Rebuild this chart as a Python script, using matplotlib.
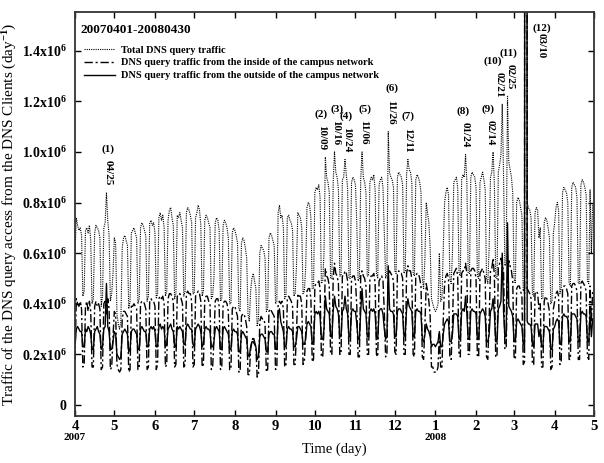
import pandas as pd
import matplotlib
matplotlib.use('Agg')
import matplotlib.pyplot as plt
import matplotlib.dates as mdates
from matplotlib.ticker import FuncFormatter, MultipleLocator

plt.rcParams['font.family'] = ['Liberation Serif', 'DejaVu Serif']
plt.rcParams['font.weight'] = 'bold'
plt.rcParams['mathtext.fontset'] = 'custom'
plt.rcParams['mathtext.rm'] = 'Liberation Serif'
plt.rcParams['mathtext.bf'] = 'Liberation Serif:bold'
plt.rcParams['mathtext.it'] = 'Liberation Serif:italic'
plt.rcParams['mathtext.default'] = 'bf'

start = '2007-04-01'
end = '2008-04-30'

# daily DNS queries, unit 1e4 / day, one row per week (Sun .. Sat)
total = [
    60, 74, 71, 69, 70, 67, 43,
    45, 69, 70, 68, 71, 65, 40,
    42, 68, 71, 70, 69, 66, 39,
    43, 70, 72, 84, 73, 67, 41,
    44, 52, 66, 64, 36, 32, 30,
    33, 62, 66, 67, 65, 63, 38,
    41, 68, 69, 70, 68, 66, 40,
    42, 70, 72, 71, 69, 67, 41,
    43, 72, 73, 71, 72, 68, 42,
    44, 74, 76, 73, 75, 70, 43,
    45, 73, 77, 78, 74, 71, 42,
    44, 75, 74, 76, 73, 70, 43,
    45, 76, 78, 77, 75, 72, 44,
    44, 74, 76, 79, 77, 71, 43,
    45, 73, 75, 74, 72, 70, 42,
    43, 50, 72, 74, 73, 69, 41,
    42, 71, 73, 72, 70, 66, 40,
    40, 68, 70, 69, 67, 64, 38,
    37, 64, 66, 65, 62, 58, 36,
    33, 45, 50, 52, 49, 46, 31,
    34, 60, 63, 62, 61, 58, 37,
    38, 66, 68, 67, 65, 63, 40,
    41, 76, 79, 74, 75, 70, 42,
    43, 74, 75, 73, 72, 69, 43,
    44, 55, 76, 75, 74, 70, 44,
    45, 54, 78, 80, 79, 74, 46,
    46, 84, 86, 85, 87, 82, 48,
    49, 60, 98, 90, 88, 84, 50,
    50, 88, 100, 92, 90, 85, 51,
    51, 89, 90, 97, 91, 86, 50,
    50, 88, 90, 89, 87, 72, 49,
    50, 89, 100, 90, 88, 84, 51,
    51, 88, 90, 89, 91, 85, 52,
    50, 87, 89, 90, 86, 68, 50,
    52, 108, 92, 90, 89, 86, 53,
    52, 90, 92, 91, 90, 87, 52,
    53, 91, 97, 93, 92, 88, 52,
    51, 89, 91, 90, 88, 84, 50,
    46, 58, 80, 76, 72, 62, 42,
    40, 38, 37, 38, 40, 60, 41,
    42, 62, 80, 84, 86, 83, 50,
    48, 60, 88, 89, 90, 86, 52,
    51, 89, 91, 90, 99, 88, 52,
    52, 90, 92, 91, 90, 86, 51,
    50, 88, 90, 92, 89, 85, 50,
    48, 62, 90, 92, 100, 87, 50,
    50, 92, 95, 99, 119, 90, 55,
    56, 122, 96, 93, 90, 84, 50,
    48, 80, 82, 81, 78, 75, 45,
    46, 4000, 80, 78, 77, 74, 44,
    43, 76, 78, 77, 66, 70, 42,
    42, 72, 74, 73, 70, 66, 40,
    41, 68, 72, 78, 80, 77, 44,
    46, 84, 86, 85, 84, 80, 48,
    47, 86, 88, 87, 86, 82, 48,
    48, 87, 89, 88, 86, 83, 49,
    48, 85, 60, 80,
]

inside = [
    18, 42, 40, 39, 41, 38, 15,
    16, 39, 41, 37, 41, 37, 15,
    15, 39, 41, 39, 40, 38, 14,
    15, 40, 41, 36, 42, 38, 14,
    15, 27, 37, 36, 16, 14, 13,
    14, 34, 37, 37, 36, 35, 13,
    14, 39, 39, 40, 39, 38, 14,
    15, 40, 41, 41, 40, 38, 14,
    15, 41, 42, 41, 41, 39, 14,
    16, 42, 43, 42, 43, 40, 15,
    16, 42, 44, 44, 43, 41, 15,
    16, 43, 43, 44, 42, 40, 15,
    16, 44, 45, 44, 44, 41, 15,
    16, 43, 44, 45, 44, 41, 15,
    16, 42, 43, 43, 41, 40, 14,
    15, 25, 41, 42, 42, 39, 14,
    15, 40, 41, 41, 40, 37, 14,
    14, 38, 39, 39, 37, 35, 13,
    13, 35, 36, 36, 34, 31, 12,
    12, 22, 25, 27, 25, 23, 11,
    12, 33, 35, 34, 34, 32, 13,
    14, 37, 38, 37, 36, 35, 14,
    15, 40, 41, 40, 41, 38, 15,
    16, 42, 43, 42, 41, 39, 16,
    16, 29, 44, 43, 43, 40, 16,
    17, 28, 45, 46, 46, 42, 17,
    18, 47, 48, 48, 49, 46, 19,
    19, 30, 54, 51, 50, 47, 20,
    20, 50, 56, 52, 51, 48, 20,
    20, 51, 51, 53, 52, 49, 20,
    20, 50, 51, 51, 49, 39, 19,
    19, 51, 53, 51, 50, 47, 20,
    20, 50, 51, 51, 52, 48, 20,
    19, 49, 50, 51, 49, 37, 19,
    20, 52, 53, 52, 51, 49, 21,
    20, 52, 53, 52, 52, 50, 20,
    20, 52, 55, 53, 53, 50, 20,
    19, 51, 52, 52, 50, 47, 19,
    18, 32, 48, 45, 41, 35, 15,
    15, 13, 13, 13, 15, 28, 15,
    15, 34, 48, 51, 52, 50, 19,
    18, 32, 52, 53, 54, 51, 20,
    19, 52, 53, 53, 56, 52, 20,
    20, 53, 54, 54, 53, 50, 19,
    19, 52, 53, 54, 52, 50, 19,
    18, 34, 53, 54, 58, 51, 19,
    19, 54, 56, 58, 55, 53, 22,
    23, 50, 57, 55, 53, 49, 19,
    18, 46, 47, 47, 45, 43, 16,
    17, 2500, 46, 45, 44, 42, 16,
    16, 44, 45, 44, 38, 40, 15,
    15, 41, 43, 42, 40, 37, 14,
    15, 38, 41, 44, 45, 43, 16,
    17, 46, 47, 47, 46, 44, 18,
    18, 47, 48, 48, 47, 45, 18,
    18, 48, 49, 48, 47, 45, 19,
    18, 47, 33, 45,
]

outside = [
    24, 30, 31, 30, 29, 29, 23,
    23, 30, 29, 31, 30, 28, 22,
    22, 29, 30, 31, 29, 28, 22,
    23, 30, 31, 48, 31, 29, 22,
    22, 25, 29, 28, 20, 19, 18,
    19, 28, 29, 30, 29, 28, 21,
    22, 29, 30, 30, 29, 28, 22,
    22, 30, 31, 30, 29, 29, 23,
    23, 30, 31, 30, 31, 29, 23,
    23, 31, 32, 30, 31, 30, 23,
    24, 30, 31, 32, 30, 29, 23,
    23, 31, 30, 31, 30, 29, 24,
    24, 31, 32, 31, 30, 30, 24,
    23, 30, 31, 32, 31, 29, 23,
    24, 30, 31, 30, 30, 29, 23,
    23, 25, 30, 31, 30, 29, 22,
    22, 30, 31, 30, 29, 28, 22,
    22, 29, 30, 29, 29, 28, 21,
    21, 28, 29, 28, 27, 26, 20,
    19, 23, 25, 25, 24, 23, 18,
    19, 27, 28, 28, 27, 26, 21,
    21, 28, 29, 29, 28, 28, 22,
    22, 36, 38, 33, 31, 29, 23,
    23, 30, 31, 30, 30, 29, 23,
    23, 26, 31, 31, 30, 29, 24,
    24, 26, 32, 33, 32, 31, 24,
    25, 36, 37, 36, 37, 35, 26,
    26, 30, 43, 38, 37, 36, 27,
    27, 37, 43, 39, 38, 36, 27,
    27, 37, 38, 43, 38, 36, 27,
    27, 37, 38, 37, 37, 32, 26,
    26, 37, 46, 38, 37, 36, 27,
    27, 37, 38, 37, 38, 36, 27,
    26, 37, 38, 38, 36, 30, 26,
    27, 55, 38, 37, 37, 36, 27,
    27, 37, 38, 38, 37, 36, 27,
    28, 38, 42, 39, 38, 37, 27,
    27, 37, 38, 37, 37, 36, 26,
    25, 28, 32, 30, 29, 27, 23,
    24, 24, 23, 24, 25, 29, 23,
    23, 28, 32, 33, 34, 33, 25,
    25, 28, 36, 36, 36, 35, 26,
    26, 37, 38, 37, 43, 36, 26,
    26, 37, 38, 37, 37, 36, 26,
    26, 36, 37, 38, 37, 35, 25,
    25, 28, 37, 38, 42, 36, 25,
    25, 38, 39, 41, 60, 37, 27,
    27, 72, 39, 38, 37, 35, 25,
    25, 33, 34, 33, 32, 31, 24,
    24, 1500, 33, 32, 32, 31, 24,
    23, 32, 32, 32, 27, 30, 23,
    23, 31, 31, 31, 30, 29, 22,
    22, 30, 31, 33, 34, 33, 24,
    24, 35, 36, 35, 35, 34, 25,
    25, 36, 36, 36, 35, 34, 25,
    25, 36, 37, 36, 36, 35, 25,
    25, 36, 27, 34,
]

labels = ['(1)', '(2)', '(3)', '(4)', '(5)', '(6)', '(7)', '(8)', '(9)', '(10)', '(11)', '(12)']
peak_dates = ['04/25', '10/09', '10/16', '10/24', '11/06', '11/26', '12/11',
              '01/24', '02/14', '02/21', '02/25', '03/10']
peak_days = ['2007-04-25', '2007-10-09', '2007-10-16', '2007-10-24', '2007-11-06',
             '2007-11-26', '2007-12-11', '2008-01-24', '2008-02-14', '2008-02-21',
             '2008-02-25', '2008-03-10']
# horizontal nudges of the annotation texts (points)
paren_dx = [1, -3, 2, 1, 2, 3, 0, -2, -4, -7, 1]
date_dx = [1, -3, 1, 1, 1, 2, 0, 0, -2, -2, 2]

days = pd.date_range(start, end, freq='D')
s_total = pd.Series(total, index=days) * 1e4
s_inside = pd.Series(inside, index=days) * 1e4
s_outside = pd.Series(outside, index=days) * 1e4

fig = plt.figure(figsize=(6.04, 4.63), dpi=100)
ax = fig.add_axes([75 / 604, 1 - 416 / 463, 519 / 604, 404 / 463])

ax.plot(days, s_total, color='black', lw=0.8, ls=(0, (1, 1)),
        label='Total DNS query traffic')
ax.plot(days, s_inside, color='black', lw=1.0, ls=(0, (6, 2, 1.5, 2)),
        label='DNS query traffic from the inside of the campus network')
ax.plot(days, s_outside, color='black', lw=1.0, ls='-',
        label='DNS query traffic from the outside of the campus network')

ax.set_xlim(pd.Timestamp('2007-04-01'), pd.Timestamp('2008-05-01'))
ax.set_ylim(-0.0435e6, 1.553e6)

ax.xaxis.set_major_locator(mdates.MonthLocator())
ax.xaxis.set_major_formatter(FuncFormatter(lambda v, p: str(mdates.num2date(v).month)))
ax.yaxis.set_major_locator(MultipleLocator(0.2e6))
ax.yaxis.set_major_formatter(FuncFormatter(
    lambda v, p: '0' if abs(v) < 1 else '%.1fx10$^6$' % (v / 1e6)))

ax.tick_params(direction='in', top=True, right=True, length=4, width=1)
ax.tick_params(axis='x', labelsize=10.5, pad=3)
ax.tick_params(axis='y', labelsize=10, pad=6)
for sp in ax.spines.values():
    sp.set_linewidth(1.3)
    sp.set_color('#333333')

xt = ax.get_xaxis_transform()
ax.text(pd.Timestamp('2007-04-01'), -0.043, '2007', transform=xt, ha='center', va='top', fontsize=8)
ax.text(pd.Timestamp('2008-01-01'), -0.043, '2008', transform=xt, ha='center', va='top', fontsize=8)

ax.set_xlabel('Time (day)', fontsize=10.5, labelpad=7)
ax.set_ylabel(r'Traffic of the DNS query access from the DNS Clients (day$^{\mathrm{-1}}$)',
              fontsize=11, fontweight='normal')
ax.yaxis.set_label_coords(-0.108, 0.5)

ax.text(0.01, 0.955, '20070401-20080430', transform=ax.transAxes,
        ha='left', va='center', fontsize=9.5)

ax.legend(loc='upper left', bbox_to_anchor=(0.01, 0.928), frameon=False,
          fontsize=7.5, handlelength=2.9, handletextpad=0.6, labelspacing=0.35,
          borderpad=0.2, borderaxespad=0.2)

for lab, dt, day, pdx, ddx in zip(labels[:-1], peak_dates[:-1], peak_days[:-1],
                                  paren_dx, date_dx):
    d = pd.Timestamp(day)
    v = s_total[d]
    ax.annotate(dt, (d, v), xytext=(ddx, 5), textcoords='offset points',
                rotation=-90, ha='center', va='bottom', fontsize=8)
    ax.annotate(lab, (d, v), xytext=(pdx, 31), textcoords='offset points',
                ha='center', va='center', fontsize=8)

d12 = pd.Timestamp(peak_days[-1]) + pd.Timedelta(days=12)
ax.text(d12, 1.49e6, labels[-1], ha='center', va='center', fontsize=8)
ax.text(d12, 1.47e6, peak_dates[-1], rotation=-90, ha='center', va='top', fontsize=8)

fig.savefig('out.png', dpi=100)
